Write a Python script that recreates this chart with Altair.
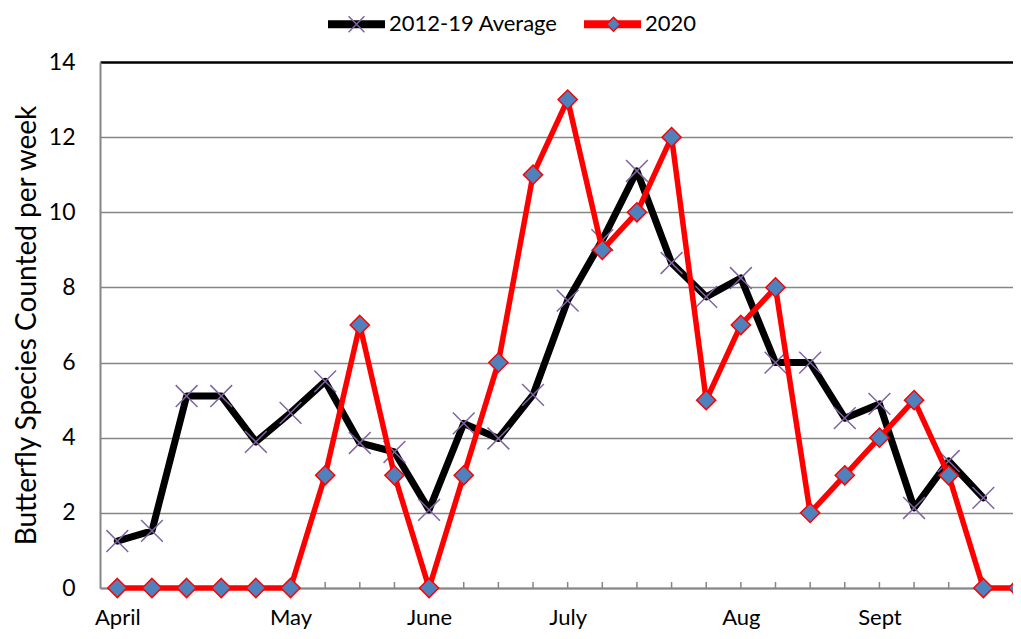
import json
import altair as alt
import pandas as pd

# ---------------- data ----------------
series_names = ["2012-19 Average", "2020"]
weeks_avg = list(range(26))
avg_2012_19 = [1.25, 1.52, 5.11, 5.11, 3.89, 4.66, 5.5, 3.86, 3.62, 2.08, 4.38, 3.98, 5.14,
               7.65, 9.26, 11.1, 8.65, 7.75, 8.25, 6.0, 6.0, 4.52, 4.9, 2.13, 3.38, 2.4]
weeks_2020 = list(range(27))
counts_2020 = [0, 0, 0, 0, 0, 0, 3, 7, 3, 0, 3, 6, 11, 13, 9, 10, 12, 5, 7, 8, 2, 3, 4, 5, 3, 0, 0]
month_labels = ["April", "May", "June", "July", "Aug", "Sept"]
month_weeks = [0, 5, 9, 13, 18, 22]
week_ticks = list(range(27))
y_ticks = [0, 2, 4, 6, 8, 10, 12, 14]

rows = []
for w, v in zip(weeks_avg, avg_2012_19):
    rows.append({"week": w, "value": v, "series": series_names[0], "name": series_names[0]})
for w, v in zip(weeks_2020, counts_2020):
    rows.append({"week": w, "value": v, "series": series_names[1], "name": series_names[1]})
df = pd.DataFrame(rows)
ticks_df = pd.DataFrame({"week": week_ticks})

# ---------------- styling ----------------
W, H = 913, 526
FONT = "Lato"
AXIS_GRAY = "#868686"
LABEL_SIZE = 22

label_expr = "{}[indexof({}, datum.value)]".format(json.dumps(month_labels), json.dumps(month_weeks))

x_enc = alt.X(
    "week:Q",
    scale=alt.Scale(domain=[-0.5, 25.856], nice=False, zero=False),
    axis=alt.Axis(values=month_weeks, labelExpr=label_expr, ticks=False, grid=False,
                  domainColor=AXIS_GRAY, domainWidth=2, labelFont=FONT,
                  labelFontSize=LABEL_SIZE, labelColor="black", labelPadding=19,
                  labelFlush=False, labelOverlap=False, title=None),
)
y_enc = alt.Y(
    "value:Q",
    scale=alt.Scale(domain=[0, 14], nice=False),
    axis=alt.Axis(values=y_ticks, grid=True,
                  gridColor=alt.condition("datum.value === 14", alt.value("black"), alt.value(AXIS_GRAY)),
                  gridWidth=alt.condition("datum.value === 14", alt.value(2.5), alt.value(1.5)),
                  ticks=False, domainColor=AXIS_GRAY, domainWidth=2,
                  labelFont=FONT, labelFontSize=LABEL_SIZE + 1, labelColor="black", labelPadding=25,
                  title="Butterfly Species Counted per week", titleFont=FONT, titleFontSize=28,
                  titleFontWeight="normal", titleColor="black", titlePadding=7),
)

BAR_LEN = 57
BAR_W = 8
LEG_X = 224
LEG_Y = -38 - (BAR_LEN + BAR_W) / 2
LABEL1_W = 182  # layout width of the first legend entry's label

common_legend = dict(
    title=None, orient="none", legendX=LEG_X, legendY=LEG_Y, direction="horizontal",
    labelFont=FONT, labelFontSize=LABEL_SIZE, labelColor="black", labelOffset=0,
    labelLimit=400, padding=0,
)
legend_lines = alt.Legend(
    symbolType="M-1,0L1,0", symbolSize=BAR_LEN ** 2, symbolStrokeWidth=BAR_W,
    columnPadding=10, zindex=1, **common_legend,
)
legend_marks = alt.Legend(
    symbolSize=(BAR_LEN + BAR_W - 1.5) ** 2, symbolStrokeWidth=1.5,
    labelExpr="''", columnPadding=10 + LABEL1_W, zindex=2, **common_legend,
)

x_path = "M-0.25,-0.25L0.25,0.25M0.25,-0.25L-0.25,0.25"
diamond_path = "M0,-0.22L0.22,0L0,0.22L-0.22,0Z"

color_enc = alt.Color("series:N",
                      scale=alt.Scale(domain=series_names, range=["#000000", "#FF0000"]),
                      legend=legend_lines)
shape_enc = alt.Shape("name:N", scale=alt.Scale(range=[x_path, diamond_path]), legend=legend_marks)
fill_enc = alt.Fill("name:N", scale=alt.Scale(range=["transparent", "#4F81BD"]), legend=legend_marks)
stroke_enc = alt.Stroke("name:N", scale=alt.Scale(range=["#8064A2", "#FF0000"]), legend=legend_marks)

base = alt.Chart(df)

ticks = alt.Chart(ticks_df).mark_rule(color=AXIS_GRAY, strokeWidth=1.5).encode(
    x=x_enc, y=alt.value(H), y2=alt.value(H - 6)
)

line_avg = base.transform_filter(alt.datum.series == series_names[0]).mark_line(
    strokeWidth=7, strokeJoin="round", strokeCap="round"
).encode(x=x_enc, y=y_enc, color=color_enc)

pts_avg = base.transform_filter(alt.datum.series == series_names[0]).mark_point(
    size=7600, strokeWidth=1.5, opacity=1
).encode(x=x_enc, y=y_enc, shape=shape_enc, fill=fill_enc, stroke=stroke_enc)

line_2020 = base.transform_filter(alt.datum.series == series_names[1]).mark_line(
    strokeWidth=5.5, strokeJoin="round", strokeCap="round"
).encode(x=x_enc, y=y_enc, color=color_enc)

pts_2020 = base.transform_filter(alt.datum.series == series_names[1]).mark_point(
    size=7600, strokeWidth=1.5, opacity=1
).encode(x=x_enc, y=y_enc, shape=shape_enc, fill=fill_enc, stroke=stroke_enc)

chart = alt.layer(ticks, line_avg, pts_avg, line_2020, pts_2020).properties(
    width=W, height=H,
    padding={"left": 92, "top": 54, "right": 0, "bottom": 43},
    autosize=alt.AutoSizeParams(type="none"),
    background="white",
).configure_view(stroke=None)

chart.save("out.html", embed_options={"renderer": "svg", "actions": False})
